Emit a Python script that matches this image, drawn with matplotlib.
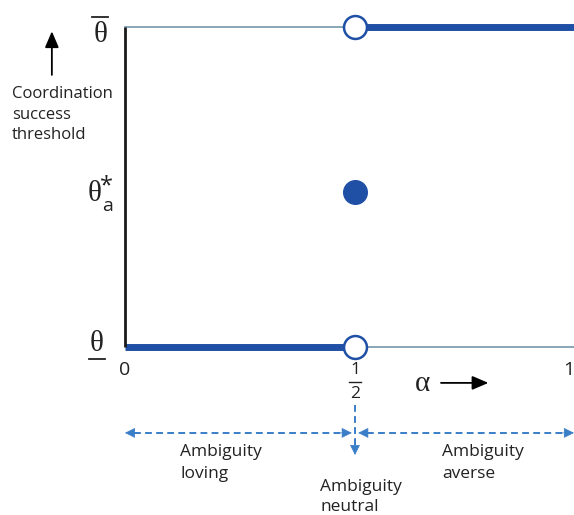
import matplotlib
matplotlib.use("Agg")
import matplotlib.pyplot as plt

# schéma : seuil de coordination en fonction de alpha
alpha_ticks = [0, 0.5, 1]
alpha_labels = ["0", "1", "2", "1"]      # 0, 1/2 (numérateur, dénominateur), 1
theta_low, theta_high = 0.0, 1.0
theta_a = 0.484

# segments (x début, x fin, y)
thick_segments = [(0.0, 0.5, theta_low), (0.5, 1.0, theta_high)]
thin_segments = [(0.0, 0.5, theta_high), (0.5, 1.0, theta_low)]
open_points = [(0.5, theta_high), (0.5, theta_low)]

# zones d'ambiguïté (x début, x fin)
regions = [(0.0, 0.493), (0.507, 0.976)]
region_labels = ["Ambiguity\nloving", "Ambiguity\naverse", "Ambiguity\nneutral"]
region_label_x = [0.12, 0.689, 0.424]

BLUE = "#2050a6"
THIN = "#7497ab"
DASH = "#3a7ec8"
INK = "#222222"
SERIF = ["Liberation Serif", "DejaVu Serif"]

plt.rcParams["font.family"] = ["Open Sans", "DejaVu Sans"]

fig = plt.figure(figsize=(5.74, 5.15), dpi=100)
W, H = 574, 515
ax = fig.add_axes([125 / W, (H - 347) / H, 460 / W, 320.5 / H])
ax.set_xlim(0, 1)
ax.set_ylim(0, 1)
ax.axis("off")

# axe vertical
ax.plot([0, 0], [theta_low, theta_high], color="#1a1a1a", lw=2.0,
        clip_on=False, zorder=3, solid_capstyle="butt")

for x0, x1, y in thin_segments:
    ax.plot([x0, x1], [y, y], color=THIN, lw=1.2, clip_on=False, zorder=2)
for x0, x1, y in thick_segments:
    ax.plot([x0, x1], [y, y], color=BLUE, lw=5.0, clip_on=False, zorder=2,
            solid_capstyle="butt")

for x, y in open_points:
    ax.plot(x, y, "o", ms=16.5, mfc="white", mec=BLUE, mew=1.8,
            clip_on=False, zorder=5)
ax.plot(0.5, theta_a, "o", ms=17, color=BLUE, clip_on=False, zorder=5)

# étiquettes des seuils
ax.text(-0.054, 0.972, "θ", family=SERIF, fontsize=21, ha="center",
        va="center", color=INK)
ax.plot([-0.071, -0.037], [1.03, 1.03], color=INK, lw=1.3, clip_on=False)

ax.text(-0.067, theta_a - 0.008, "θ", family=SERIF, fontsize=21,
        ha="center", va="center", color=INK)
ax.text(-0.038, theta_a - 0.044, "a", fontsize=14, ha="center",
        va="center", color=INK)
ax.text(-0.041, theta_a + 0.016, "*", fontsize=17, ha="center",
        va="center", color=INK)

ax.text(-0.061, theta_low + 0.01, "θ", family=SERIF, fontsize=21,
        ha="center", va="center", color=INK)
ax.plot([-0.078, -0.043], [-0.037, -0.037], color=INK, lw=1.3, clip_on=False)

# étiquettes alpha
ax.text(alpha_ticks[0], -0.072, alpha_labels[0], fontsize=14, ha="center",
        va="center", color=INK)
ax.text(alpha_ticks[1], -0.072, alpha_labels[1], fontsize=12.5, ha="center",
        va="center", color=INK)
ax.plot([alpha_ticks[1] - 0.013, alpha_ticks[1] + 0.012], [-0.109, -0.109],
        color=INK, lw=1.0, clip_on=False)
ax.text(alpha_ticks[1], -0.146, alpha_labels[2], fontsize=12.5, ha="center",
        va="center", color=INK)
ax.annotate(alpha_labels[3], xy=(alpha_ticks[2], -0.072), xytext=(-11.5, 0),
            textcoords="offset points", fontsize=14, ha="center",
            va="center", color=INK, annotation_clip=False)

ax.text(0.646, -0.114, "α", family=SERIF, fontsize=21, ha="center",
        va="center", color=INK)
ax.annotate("", xy=(0.79, -0.112), xytext=(0.687, -0.112),
            arrowprops=dict(arrowstyle="-|>,head_length=0.7,head_width=0.3",
                            color="black", lw=1.3,
                            mutation_scale=14, shrinkA=0, shrinkB=0),
            annotation_clip=False)

# flèche verticale + titre de l'axe
ax.annotate("", xy=(-0.159, 0.985), xytext=(-0.159, 0.849),
            arrowprops=dict(arrowstyle="-|>,head_length=0.7,head_width=0.3",
                            color="black", lw=1.3,
                            mutation_scale=14, shrinkA=0, shrinkB=0),
            annotation_clip=False)
ax.text(-0.246, 0.813, "Coordination\nsuccess\nthreshold", fontsize=12,
        ha="left", va="top", linespacing=1.37, color=INK)

# flèches en pointillés
y_arr = -0.268
for x0, x1 in regions:
    ax.plot([x0 + 0.02, x1 - 0.02], [y_arr, y_arr], color=DASH, lw=1.4,
            ls=(0, (3.5, 2.2)), clip_on=False)
    for tip, back in [(x0, x0 + 0.03), (x1, x1 - 0.03)]:
        ax.annotate("", xy=(tip, y_arr), xytext=(back, y_arr),
                    arrowprops=dict(arrowstyle="-|>", color=DASH, lw=0.5,
                                    mutation_scale=16, shrinkA=0, shrinkB=0),
                    annotation_clip=False)

ax.plot([0.5, 0.5], [-0.181, -0.31], color=DASH, lw=1.4, ls=(0, (3.5, 2.2)),
        clip_on=False)
ax.annotate("", xy=(0.5, -0.337), xytext=(0.5, -0.3),
            arrowprops=dict(arrowstyle="-|>", color=DASH, lw=0.5,
                            mutation_scale=16, shrinkA=0, shrinkB=0),
            annotation_clip=False)

ax.text(region_label_x[0], -0.303, region_labels[0], fontsize=12.5,
        ha="left", va="top", linespacing=1.45, color=INK)
ax.text(region_label_x[1], -0.303, region_labels[1], fontsize=12.5,
        ha="left", va="top", linespacing=1.45, color=INK)
# en bas de la figure : un peu remonté pour rester entièrement visible
ax.text(region_label_x[2], -0.412, region_labels[2], fontsize=12.5,
        ha="left", va="top", linespacing=1.3, color=INK)

fig.savefig("out.png", dpi=100)
